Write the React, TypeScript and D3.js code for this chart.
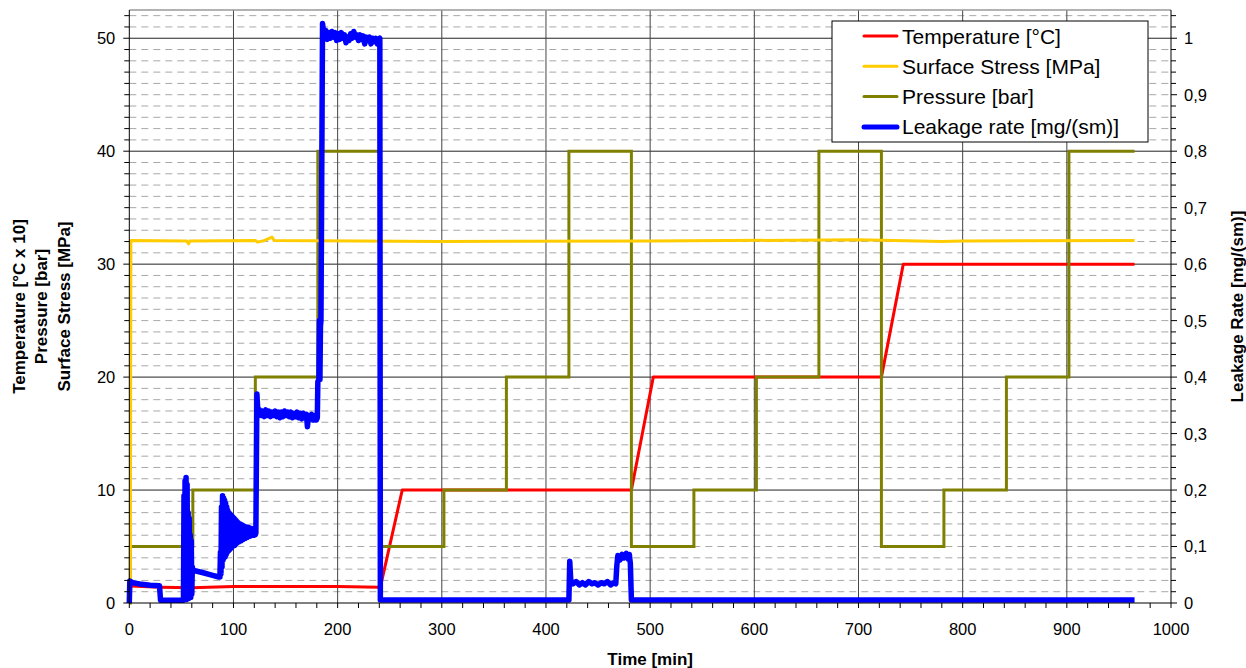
import * as d3 from "d3";

const W = 1246;
const H = 668;
const FONT = "Arial, 'Liberation Sans', Helvetica, sans-serif";

// time axis [min]
const X_TICKS = d3.range(0, 1001, 100);

// Pressure [bar] — step series (value holds until next time)
const pressureTime = [0, 1, 61, 121, 181, 241, 302, 362, 422, 482, 542, 602, 662, 722, 782, 842, 902, 965];
const pressureBar = [0, 5, 10, 20, 40, 5, 10, 20, 40, 5, 10, 20, 40, 5, 10, 20, 40, 40];

// Temperature, plotted as °C x 10 on left axis
const tempTime = [1, 30, 60, 100, 150, 200, 240, 241, 262, 482, 503, 722, 743, 965];
const tempC = [15, 14, 13.5, 14.5, 14.5, 14.5, 14, 14, 100, 100, 200, 200, 300, 300];

// Surface stress [MPa]
const stressTime = [1, 1.5, 55, 57, 58, 121, 123, 130, 137, 139, 300, 500, 700, 780, 800, 965];
const stressMPa = [0, 32.1, 32.05, 31.8, 32.05, 32.1, 31.95, 32.1, 32.4, 32.1, 32.0, 32.05, 32.15, 32.0, 32.05, 32.1];

// Leakage rate [mg/(sm)] — right axis
const leakTime = [
  0, 0.5, 3, 10, 20, 29, 30, 52,
  52.5, 53, 53.5, 54, 54.5, 55, 55.5, 56, 56.5, 57, 57.5, 58, 58.5, 59, 59.5, 60, 60.5,
  61, 70, 80, 86, 87,
  87.5, 88, 88.5, 89, 89.5, 90, 90.5, 91, 91.5, 92, 92.5, 93, 93.5, 94, 94.5, 95, 95.5, 96, 96.5,
  97, 97.5, 98, 98.5, 99, 99.5, 100, 100.5, 101, 101.5, 102, 102.5, 103, 103.5, 104, 104.5, 105,
  105.5, 106, 106.5, 107, 107.5, 108, 108.5, 109, 109.5, 110, 110.5, 111, 111.5, 112, 112.5, 113,
  113.5, 114, 114.5, 115, 115.5, 116, 116.5, 117, 117.5, 118, 118.5, 119, 119.5, 120, 120.5, 121, 121.5,
  122.5, 123.5, 125, 126.5, 128, 129.5, 131, 132.5, 134, 135.5, 137, 138.5, 140, 141.5, 143, 144.5,
  146, 147.5, 149, 150.5, 152, 153.5, 155, 156.5, 158, 159.5, 161, 162.5, 164, 165.5, 167, 168.5,
  170, 171, 172, 173.5, 175, 176.5, 178, 179.5, 180.5,
  181, 182, 182.5, 183, 183.5, 184, 185.5,
  187, 188.5, 190, 191.5, 193, 194.5, 196, 197.5, 199, 200.5, 202, 203.5, 205, 206.5, 208, 209.5,
  211, 212.5, 214, 215.5, 217, 218.5, 220, 221.5, 223, 224.5, 226, 227.5, 229, 230.5, 232, 233.5,
  235, 236.5, 238, 239.5, 240.5, 241,
  422, 422.8, 423.8, 426, 429, 432, 435, 438, 441, 444, 447, 450, 453, 456, 459, 462, 465, 467,
  468, 469, 471, 473, 475, 477, 479, 480, 481, 482, 965,
];
const leakRate = [
  0, 0.039, 0.036, 0.0336, 0.0316, 0.0304, 0.005, 0.005,
  0.19, 0.006, 0.216, 0.008, 0.222, 0.006, 0.21, 0.01, 0.16, 0.008, 0.15, 0.012, 0.12, 0.01, 0.11, 0.016, 0.064,
  0.058, 0.054, 0.049, 0.046, 0.046,
  0.09, 0.052, 0.17, 0.064, 0.19, 0.076, 0.186, 0.08, 0.182, 0.082, 0.176, 0.086, 0.17, 0.09, 0.164, 0.092, 0.16, 0.094, 0.158,
  0.096, 0.156, 0.098, 0.154, 0.1, 0.152, 0.102, 0.15, 0.102, 0.148, 0.104, 0.146, 0.106, 0.144, 0.108, 0.142, 0.108,
  0.14, 0.11, 0.14, 0.11, 0.139, 0.112, 0.138, 0.112, 0.137, 0.114, 0.136, 0.114, 0.135, 0.116, 0.134, 0.116,
  0.134, 0.118, 0.134, 0.118, 0.133, 0.118, 0.132, 0.119, 0.132, 0.12, 0.131, 0.12, 0.13, 0.12, 0.129, 0.121, 0.124,
  0.37, 0.336, 0.342, 0.332, 0.34, 0.33, 0.342, 0.332, 0.34, 0.33, 0.338, 0.332, 0.34, 0.33, 0.338, 0.328,
  0.338, 0.33, 0.34, 0.332, 0.338, 0.33, 0.338, 0.328, 0.336, 0.33, 0.338, 0.328, 0.336, 0.326, 0.336, 0.328,
  0.334, 0.312, 0.332, 0.326, 0.334, 0.324, 0.332, 0.324, 0.328,
  0.392, 0.396, 0.5, 0.396, 0.49, 0.5, 1.026,
  1.004, 1.014, 0.998, 1.01, 1.0, 1.012, 1.002, 1.01, 0.996, 1.008, 0.998, 1.01, 1.0, 1.006, 0.992, 1.002,
  0.996, 1.008, 1.0, 1.012, 1.002, 1.006, 0.996, 1.006, 0.998, 1.004, 0.99, 1.002, 0.996, 1.002, 0.99, 1.0,
  0.994, 1.0, 0.99, 0.998, 1.0, 0.0054,
  0.0054, 0.074, 0.04, 0.034, 0.038, 0.032, 0.036, 0.032, 0.038, 0.034, 0.036, 0.032, 0.036, 0.034, 0.038, 0.032, 0.036, 0.034,
  0.066, 0.084, 0.076, 0.086, 0.08, 0.088, 0.078, 0.086, 0.07, 0.0054, 0.0054,
];

const LEGEND = [
  { label: "Temperature [°C]", color: "#ff0000", width: 3 },
  { label: "Surface Stress [MPa]", color: "#ffcc00", width: 3 },
  { label: "Pressure [bar]", color: "#808000", width: 3 },
  { label: "Leakage rate [mg/(sm)]", color: "#0000ff", width: 5 },
];

const zip = (a: number[], b: number[]): [number, number][] => a.map((t, i) => [t, b[i]]);

export default function App() {
  const x = d3.scaleLinear().domain([0, 1000]).range([129.3, 1171]);
  const yL = d3.scaleLinear().domain([0, 52.5]).range([603, 10]);
  const yR = d3.scaleLinear().domain([0, 1.05]).range([603, 10]);

  const lineL = d3.line<[number, number]>().x((d) => x(d[0])).y((d) => yL(d[1]));
  const lineR = d3.line<[number, number]>().x((d) => x(d[0])).y((d) => yR(d[1]));
  const stepL = d3
    .line<[number, number]>()
    .x((d) => x(d[0]))
    .y((d) => yL(d[1]))
    .curve(d3.curveStepAfter);

  const minorY = d3.range(1, 53).filter((v) => v % 10 !== 0);
  const majorY = [10, 20, 30, 40, 50];
  const leftTicks = d3.range(0, 51, 10);
  const rightTicks = d3.range(0, 11).map((i) => i / 10);
  const rightMinor = d3.range(0, 53).map((i) => i / 50);
  const xMinor = d3.range(0, 1001, 20);
  const fmtR = (v: number) => (v === 0 ? "0" : v === 1 ? "1" : d3.format(".1f")(v).replace(".", ","));

  const [x0, x1] = x.range();
  const [yB, yT] = yL.range();

  return (
    <svg
      width={W}
      height={H}
      style={{ position: "absolute", left: 0, top: 0, background: "#fff" }}
      fontFamily={FONT}
    >
      {/* minor dashed grid */}
      {minorY.map((v) => (
        <line
          key={"mn" + v}
          x1={x0}
          x2={x1}
          y1={yL(v)}
          y2={yL(v)}
          stroke="#a8a8a8"
          strokeWidth={1}
          strokeDasharray="7,5"
        />
      ))}
      {/* major grid */}
      {majorY.map((v) => (
        <line key={"mj" + v} x1={x0} x2={x1} y1={yL(v)} y2={yL(v)} stroke="#222" strokeWidth={1} />
      ))}
      {X_TICKS.slice(1, -1).map((t) => (
        <line key={"vx" + t} x1={x(t)} x2={x(t)} y1={yT} y2={yB} stroke="#444" strokeWidth={1} />
      ))}
      <line x1={x0} x2={x1} y1={yT} y2={yT} stroke="#999" strokeWidth={1.5} />

      {/* series */}
      <path d={lineL(zip(tempTime, tempC.map((c) => c / 10))) ?? ""} fill="none" stroke="#ff0000" strokeWidth={3} strokeLinejoin="round" />
      <path d={stepL(zip(pressureTime, pressureBar)) ?? ""} fill="none" stroke="#808000" strokeWidth={3} />
      <path d={lineL(zip(stressTime, stressMPa)) ?? ""} fill="none" stroke="#ffcc00" strokeWidth={3} strokeLinejoin="round" />
      <path d={lineR(zip(leakTime, leakRate)) ?? ""} fill="none" stroke="#0000ff" strokeWidth={5.5} strokeLinejoin="round" />

      {/* axes */}
      <line x1={x0} x2={x0} y1={yT} y2={yB} stroke="#000" />
      <line x1={x1} x2={x1} y1={yT} y2={yB} stroke="#000" />
      <line x1={x0} x2={x1} y1={yB} y2={yB} stroke="#000" />

      {d3.range(0, 53).map((v) => (
        <line key={"lt" + v} x1={x0 - (v % 10 === 0 ? 6 : 5)} x2={x0} y1={yL(v)} y2={yL(v)} stroke="#000" />
      ))}
      {leftTicks.map((v) => (
        <text key={"ll" + v} x={x0 - 14} y={yL(v)} dy="0.36em" textAnchor="end" fontSize={16.5} fill="#000">
          {v}
        </text>
      ))}

      {rightMinor.map((v, i) => (
        <line key={"rt" + i} x1={x1} x2={x1 + (i % 5 === 0 ? 6 : 5)} y1={yR(v)} y2={yR(v)} stroke="#000" />
      ))}
      {rightTicks.map((v) => (
        <text key={"rl" + v} x={x1 + 13} y={yR(v)} dy="0.36em" textAnchor="start" fontSize={16.5} fill="#000">
          {fmtR(v)}
        </text>
      ))}

      {xMinor.map((t) => (
        <line key={"xt" + t} x1={x(t)} x2={x(t)} y1={yB} y2={yB + 5} stroke="#000" />
      ))}
      {X_TICKS.map((t) => (
        <text key={"xl" + t} x={x(t)} y={635} textAnchor="middle" fontSize={16.5} fill="#000">
          {t}
        </text>
      ))}

      {/* axis titles */}
      <text x={(x0 + x1) / 2} y={665} textAnchor="middle" fontSize={17} fontWeight="bold">
        Time [min]
      </text>
      {["Temperature [°C x 10]", "Pressure [bar]", "Surface Stress [MPa]"].map((s, i) => (
        <text
          key={s}
          transform={`translate(${24.5 + i * 22.5},${(yT + yB) / 2}) rotate(-90)`}
          textAnchor="middle"
          fontSize={17}
          fontWeight="bold"
        >
          {s}
        </text>
      ))}
      <text
        transform={`translate(1243,${(yT + yB) / 2}) rotate(-90)`}
        textAnchor="middle"
        fontSize={17}
        fontWeight="bold"
      >
        Leakage Rate [mg/(sm)]
      </text>

      {/* legend */}
      <rect x={832} y={21} width={316} height={121} fill="#fff" stroke="#000" strokeWidth={1} />
      {LEGEND.map((l, i) => {
        const cy = 36 + i * 30.3;
        return (
          <g key={l.label}>
            <line x1={864} x2={897} y1={cy} y2={cy} stroke={l.color} strokeWidth={l.width} strokeLinecap="round" />
            <text x={902} y={cy} dy="0.36em" fontSize={21} fill="#000">
              {l.label}
            </text>
          </g>
        );
      })}
    </svg>
  );
}
